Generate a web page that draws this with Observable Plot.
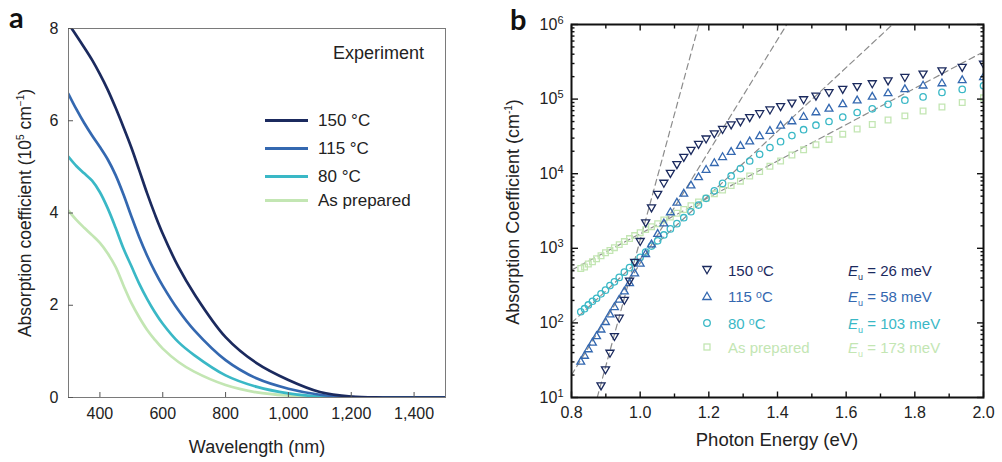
<!DOCTYPE html>
<html><head><meta charset="utf-8">
<script src="https://cdn.jsdelivr.net/npm/d3@7"></script>
<script src="https://cdn.jsdelivr.net/npm/@observablehq/plot@0.6"></script>
<style>
html,body{margin:0;padding:0;background:#fff;}
#fig{position:relative;width:1002px;height:462px;overflow:hidden;font-family:"Liberation Sans",Arial,sans-serif;color:#222;}
.abs{position:absolute;white-space:nowrap;line-height:1;}
.ctr{transform:translate(-50%,-50%);}
.vctr{transform:translateY(-50%);}
.rot{transform:translate(-50%,-50%) rotate(-90deg);}
.panel{position:absolute;top:0;}
.plab{font-family:Lato,"Liberation Sans",sans-serif;font-weight:700;font-size:29px;color:#111;}
</style></head><body><div id="fig"></div>
<script>
// ---------- Panel a : absorption coefficient (10^5 cm^-1) vs wavelength ----------
const seriesNames = ["150 °C", "115 °C", "80 °C", "As prepared"];
const seriesColors = ["#1b2a5e", "#3468b0", "#3ab8c6", "#c3e6b3"];
const wavelengthNm = [300,325,350,375,400,425,450,475,500,525,550,575,600,650,700,800,900,1000,1100,1200,1300,1400,1500];
const absA150 = [8.10,7.85,7.59,7.32,7.01,6.67,6.28,5.86,5.42,4.93,4.43,3.97,3.55,2.83,2.25,1.31,0.74,0.38,0.12,0.02,0,0,0];
const absA115 = [6.58,6.25,5.95,5.68,5.43,5.16,4.82,4.40,3.93,3.48,3.08,2.73,2.42,1.89,1.46,0.81,0.41,0.19,0.06,0.01,0,0,0];
const absA80  = [5.22,5.02,4.86,4.70,4.45,4.10,3.68,3.23,2.85,2.47,2.14,1.85,1.60,1.20,0.92,0.48,0.23,0.09,0.02,0,0,0,0];
const absAPrep= [4.05,3.85,3.68,3.52,3.35,3.12,2.83,2.43,2.05,1.74,1.47,1.25,1.06,0.77,0.56,0.27,0.11,0.04,0.01,0,0,0,0];
const xTicksA = [400,600,800,1000,1200,1400];
const yTicksA = [0,2,4,6,8];

// ---------- Panel b : absorption coefficient (cm^-1) vs photon energy ----------
const photonEnergy = [0.827,0.838,0.849,0.861,0.873,0.886,0.899,0.912,0.925,0.939,0.954,0.969,0.984,1.000,1.016,1.033,1.051,1.069,1.088,1.107,1.127,1.148,1.170,1.192,1.216,1.240,1.265,1.292,1.319,1.348,1.378,1.409,1.442,1.476,1.512,1.550,1.590,1.632,1.676,1.722,1.771,1.824,1.879,1.938,2.000];
const absB150 = [null,null,null,null,null,14.6,24,40,67,118,205,370,660,1260,2240,3560,5400,7600,10300,13500,16900,21000,25200,29800,35000,40000,46000,50500,57500,65000,73000,81000,90000,100000,112000,125000,138000,150000,164000,179000,199000,221000,244000,272000,300000];
const absB115 = [30,36,44,54,66,81,102,129,162,204,263,339,457,617,832,1120,1550,2140,3020,4070,5370,6920,8910,11200,13800,16600,19500,23400,26900,31600,37200,43700,50100,57500,66100,74100,85100,95500,107000,119000,135000,151000,162000,178000,195000];
const absB80  = [141,155,174,195,214,245,275,316,355,407,479,550,646,759,891,1070,1260,1510,1820,2140,2570,3090,3800,4680,5890,7410,9330,11700,14800,18200,22400,26900,32400,38900,44700,50100,57500,66100,74100,85100,96600,107000,123000,135000,151000];
const absBPrep= [537,562,617,661,724,794,871,933,1020,1120,1230,1350,1480,1620,1780,1950,2140,2400,2630,2950,3310,3720,4170,4680,5370,6030,6920,7940,9330,10700,12600,14800,17800,20900,24500,28800,33900,39800,45700,52500,59600,69200,78500,90200,104000];
const urbachEnergy = ["26", "58", "103", "173"];
// Urbach-tail fit lines: two end points each (photon energy, coefficient)
const fitE150 = [0.875, 1.171], fitA150 = [10, 1e6];
const fitE115 = [0.800, 1.427], fitA115 = [20, 1e6];
const fitE80  = [0.800, 1.735], fitA80  = [100, 1e6];
const fitEPrep= [0.800, 2.000], fitAPrep= [510, 4.3e5];
const xTicksB = [0.8,1.0,1.2,1.4,1.6,1.8,2.0];
const xMinorB = [0.9,1.1,1.3,1.5,1.7,1.9];
const yTicksB = [1e1,1e2,1e3,1e4,1e5,1e6];

const fig = document.getElementById("fig");
const FONT = "'Liberation Sans', Arial, sans-serif";

// ----- build panel a -----
const linesA = [absA150, absA115, absA80, absAPrep];
const rowsA = [];
[3,2,1,0].forEach(k => linesA[k].forEach((v,i) => rowsA.push({series: seriesNames[k], wl: wavelengthNm[i], a: v})));

const plotA = Plot.plot({
  width: 460, height: 462,
  marginLeft: 68, marginRight: 15, marginTop: 28, marginBottom: 65,
  style: {fontFamily: FONT, fontSize: "16px", color: "#222", background: "transparent", overflow: "visible"},
  x: {domain: [300, 1500], label: null},
  y: {domain: [0, 8], label: null},
  color: {domain: seriesNames, range: seriesColors},
  marks: [
    Plot.line(rowsA, {x: "wl", y: "a", z: "series", stroke: "series", strokeWidth: 2.7, curve: "catmull-rom", clip: true}),
    Plot.frame({stroke: "#7a7a7a", strokeWidth: 1}),
    Plot.axisX(xTicksA, {anchor: "bottom", tickSize: 0, tickPadding: 10, tickFormat: d3.format(","), label: null}),
    Plot.axisX(xTicksA, {anchor: "bottom", tickSize: -5, tickFormat: () => "", label: null, stroke: "#555"}),
    Plot.axisY(yTicksA, {anchor: "left", tickSize: 0, tickPadding: 10, label: null}),
    Plot.axisY(yTicksA, {anchor: "left", tickSize: -5, tickFormat: () => "", label: null, stroke: "#555"})
  ]
});
plotA.classList.add("panel");
plotA.style.left = "0px";
fig.appendChild(plotA);

// ----- build panel b -----
const valsB = [absB150, absB115, absB80, absBPrep];
const rowsB = seriesNames.map((n,k) => photonEnergy.map((e,i) => ({series: n, e, a: valsB[k][i]})).filter(d => d.a != null));
const fitsE = [fitE150, fitE115, fitE80, fitEPrep], fitsA = [fitA150, fitA115, fitA80, fitAPrep];
const fitRows = [];
fitsE.forEach((es,k) => es.forEach((e,i) => fitRows.push({fit: seriesNames[k], e, a: fitsA[k][i]})));
const yMinorB = d3.scaleLog().domain([10, 1e6]).ticks().filter(v => !yTicksB.includes(v));

const symbolSpec = [
  {symbol: "triangle", rotate: 180, r: 3.0},
  {symbol: "triangle", rotate: 0, r: 2.9},
  {symbol: "circle", rotate: 0, r: 3.2},
  {symbol: "square", rotate: 0, r: 3.2}
];
const dotMarks = [3,2,1,0].map(k => Plot.dot(rowsB[k], {
  x: "e", y: "a", stroke: seriesColors[k], fill: "none", strokeWidth: 1.3,
  symbol: symbolSpec[k].symbol, rotate: symbolSpec[k].rotate, r: symbolSpec[k].r, clip: true
}));

const tickOpts = {label: null, tickFormat: () => "", stroke: "#111", strokeWidth: 1.4};
const plotB = Plot.plot({
  width: 502, height: 462,
  marginLeft: 71, marginRight: 19, marginTop: 24, marginBottom: 65,
  style: {fontFamily: FONT, fontSize: "16px", color: "#222", background: "transparent", overflow: "visible"},
  x: {domain: [0.8, 2.0], label: null},
  y: {type: "log", domain: [10, 1e6], label: null},
  marks: [
    Plot.line(fitRows, {x: "e", y: "a", z: "fit", stroke: "#8c8c8c", strokeWidth: 1.2, strokeDasharray: "6,4", clip: true}),
    ...dotMarks,
    Plot.frame({stroke: "#111", strokeWidth: 2}),
    Plot.axisX(xTicksB, {anchor: "bottom", tickSize: 0, tickPadding: 9, tickFormat: d3.format(".1f"), label: null}),
    Plot.axisX(xTicksB, {anchor: "bottom", tickSize: -5.5, ...tickOpts}),
    Plot.axisX(xMinorB, {anchor: "bottom", tickSize: -3.5, ...tickOpts}),
    Plot.axisX(xTicksB, {anchor: "top", tickSize: -5.5, ...tickOpts}),
    Plot.axisX(xMinorB, {anchor: "top", tickSize: -3.5, ...tickOpts}),
    Plot.axisY(yTicksB, {anchor: "left", tickSize: 0, tickPadding: 8, tickFormat: d => "10^" + Math.round(Math.log10(d)), label: null}),
    Plot.axisY(yTicksB, {anchor: "left", tickSize: -7, ...tickOpts}),
    Plot.axisY(yMinorB, {anchor: "left", tickSize: -3.5, ...tickOpts}),
    Plot.axisY(yTicksB, {anchor: "right", tickSize: -7, ...tickOpts}),
    Plot.axisY(yMinorB, {anchor: "right", tickSize: -3.5, ...tickOpts})
  ]
});
plotB.classList.add("panel");
plotB.style.left = "500px";
fig.appendChild(plotB);
// superscript exponents on the log axis labels
d3.select(plotB).selectAll("text").each(function() {
  const m = /^10\^(\d+)$/.exec(this.textContent);
  if (!m) return;
  const t = d3.select(this);
  t.text("");
  t.append("tspan").text("10");
  t.append("tspan").attr("dy", "-0.55em").attr("font-size", "11px").text(m[1]);
});

// ----- HTML texts -----
function addText(html, css, cls) {
  const d = document.createElement("div");
  d.className = "abs " + (cls || "");
  d.innerHTML = html;
  Object.assign(d.style, css);
  fig.appendChild(d);
  return d;
}
addText("a", {left: "9px", top: "2px"}, "plab");
addText("b", {left: "510px", top: "4px"}, "plab");
addText("Absorption coefficient (10<sup style='font-size:10px'>5</sup> cm<sup style='font-size:10px'>−1</sup>)", {left: "25px", top: "213px", fontSize: "17.5px"}, "rot");
addText("Wavelength (nm)", {left: "257px", top: "447px", fontSize: "18px"}, "ctr");
addText("Absorption Coefficient (cm<sup style='font-size:10px'>-1</sup>)", {left: "513px", top: "212px", fontSize: "18px"}, "rot");
addText("Photon Energy (eV)", {left: "777px", top: "440px", fontSize: "18.5px"}, "ctr");

// panel a legend
addText("Experiment", {left: "333px", top: "53px", fontSize: "18px"}, "vctr");
const legAY = [120, 148, 176, 200];
seriesNames.forEach((n,k) => {
  const ln = document.createElement("div");
  Object.assign(ln.style, {position: "absolute", left: "265px", top: (legAY[k] - 1.5) + "px", width: "43px", height: "3px", background: seriesColors[k]});
  fig.appendChild(ln);
  addText(n, {left: "318px", top: legAY[k] + "px", fontSize: "17px"}, "vctr");
});

// panel b legend
const legBY = [270, 296, 322.7, 347.3];
const legSym = [
  "<polygon points='1.8,2.5 10.2,2.5 6,9.8' />",
  "<polygon points='6,2.2 10.2,9.5 1.8,9.5' />",
  "<circle cx='6' cy='6' r='3.3' />",
  "<rect x='3' y='3' width='6' height='6' />"
];
seriesNames.forEach((n,k) => {
  const c = seriesColors[k];
  addText(`<svg width="12" height="12" style="display:block"><g fill="none" stroke="${c}" stroke-width="1.3">${legSym[k]}</g></svg>`,
    {left: "701px", top: legBY[k] + "px"}, "vctr");
  addText(n.replace(" °C", " <span style='position:relative;top:-0.35em;font-size:0.7em'>o</span>C"),
    {left: "728px", top: legBY[k] + "px", fontSize: "15px", color: c}, "vctr");
  addText(`<i>E</i><span style="font-size:9px;position:relative;top:0.45em">u</span> = ${urbachEnergy[k]} meV`,
    {left: "848px", top: legBY[k] + "px", fontSize: "15px", color: c}, "vctr");
});
</script></body></html>
